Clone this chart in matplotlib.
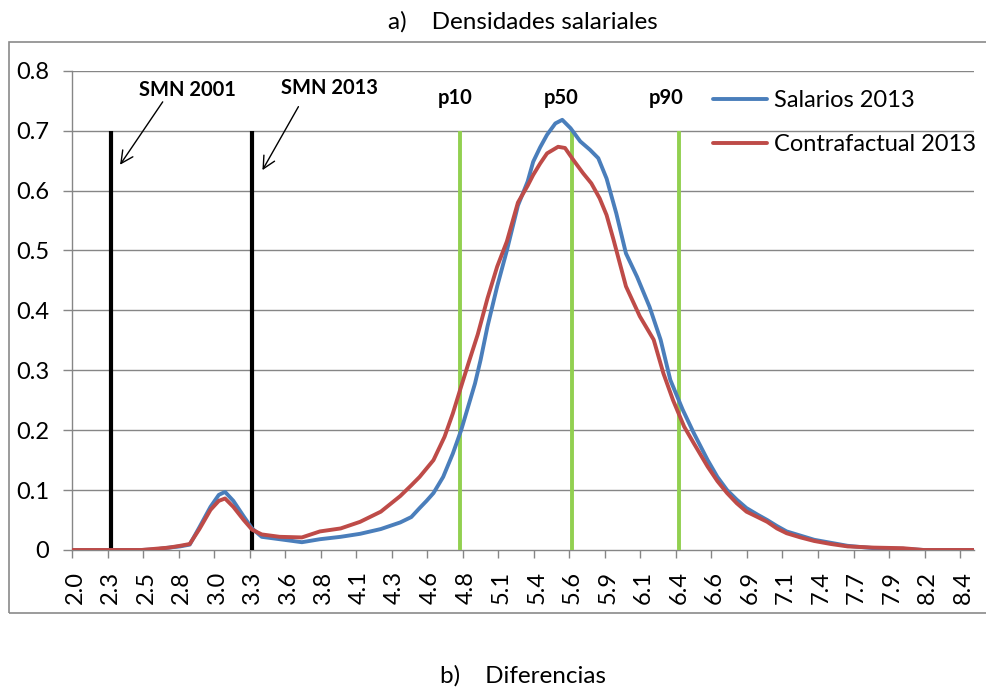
import numpy as np
import matplotlib
matplotlib.use("Agg")
import matplotlib.pyplot as plt
import matplotlib.transforms as mtransforms
from matplotlib.patches import Rectangle

plt.rcParams['font.family'] = ['Lato', 'DejaVu Sans']

# ---------------- data ----------------
x_salarios = [2.0, 2.3, 2.5, 2.6, 2.7, 2.78, 2.85, 2.92, 3.00, 3.06, 3.105, 3.165, 3.24,
              3.30, 3.37, 3.50, 3.66, 3.79, 3.94, 4.08, 4.23, 4.37, 4.45, 4.51, 4.56,
              4.61, 4.68, 4.75, 4.81, 4.86, 4.91, 4.95, 5.00, 5.07, 5.14, 5.22, 5.29,
              5.33, 5.38, 5.43, 5.49, 5.54, 5.60, 5.67, 5.74, 5.80, 5.86, 5.93, 6.00,
              6.08, 6.17, 6.25, 6.32, 6.41, 6.49, 6.59, 6.66, 6.73, 6.80, 6.87, 6.95,
              7.02, 7.09, 7.16, 7.26, 7.36, 7.48, 7.60, 7.79, 8.0, 8.15, 8.3, 8.51]
salarios_2013 = [0, 0, 0, 0.001, 0.004, 0.006, 0.009, 0.038, 0.072, 0.092, 0.097, 0.082, 0.056,
                 0.036, 0.022, 0.018, 0.013, 0.018, 0.022, 0.027, 0.035, 0.046, 0.055, 0.070, 0.082,
                 0.095, 0.122, 0.161, 0.200, 0.239, 0.278, 0.317, 0.373, 0.440, 0.500, 0.575, 0.615,
                 0.648, 0.672, 0.693, 0.712, 0.718, 0.704, 0.682, 0.668, 0.654, 0.620, 0.562, 0.495,
                 0.456, 0.406, 0.351, 0.284, 0.234, 0.195, 0.150, 0.122, 0.100, 0.084, 0.070, 0.059,
                 0.050, 0.040, 0.031, 0.024, 0.017, 0.012, 0.007, 0.003, 0.002, 0.0, 0.0, 0.0]

x_contrafactual = [2.0, 2.3, 2.5, 2.6, 2.7, 2.78, 2.85, 2.92, 3.00, 3.06, 3.105, 3.165, 3.24,
                   3.30, 3.37, 3.50, 3.66, 3.79, 3.94, 4.08, 4.23, 4.37, 4.45, 4.51, 4.61,
                   4.69, 4.75, 4.81, 4.87, 4.93, 5.00, 5.07, 5.14, 5.22, 5.29, 5.33, 5.38,
                   5.43, 5.51, 5.56, 5.62, 5.69, 5.75, 5.81, 5.86, 5.91, 6.00, 6.10, 6.20,
                   6.27, 6.34, 6.42, 6.49, 6.59, 6.66, 6.73, 6.80, 6.87, 6.95, 7.02, 7.09,
                   7.16, 7.26, 7.36, 7.48, 7.60, 7.79, 8.0, 8.15, 8.3, 8.51]
contrafactual_2013 = [0, 0, 0, 0.002, 0.004, 0.007, 0.010, 0.035, 0.067, 0.082, 0.086, 0.072, 0.050,
                      0.034, 0.026, 0.022, 0.021, 0.031, 0.036, 0.047, 0.064, 0.090, 0.108, 0.122, 0.150,
                      0.189, 0.228, 0.273, 0.317, 0.360, 0.420, 0.473, 0.515, 0.580, 0.608, 0.626, 0.645,
                      0.662, 0.673, 0.671, 0.651, 0.629, 0.612, 0.587, 0.559, 0.518, 0.440, 0.390, 0.351,
                      0.295, 0.250, 0.206, 0.178, 0.139, 0.115, 0.095, 0.078, 0.064, 0.055, 0.047, 0.036,
                      0.028, 0.021, 0.015, 0.010, 0.006, 0.004, 0.003, 0.0, 0.0, 0.0]

x_tick_labels = ["2.0", "2.3", "2.5", "2.8", "3.0", "3.3", "3.6", "3.8", "4.1", "4.3",
                 "4.6", "4.8", "5.1", "5.4", "5.6", "5.9", "6.1", "6.4", "6.6", "6.9",
                 "7.1", "7.4", "7.7", "7.9", "8.2", "8.4"]
y_ticks = [0, 0.1, 0.2, 0.3, 0.4, 0.5, 0.6, 0.7, 0.8]
y_tick_labels = ["0", "0.1", "0.2", "0.3", "0.4", "0.5", "0.6", "0.7", "0.8"]

smn_names = ["SMN 2001", "SMN 2013"]
smn_x = [2.28, 3.30]
pct_names = ["p10", "p50", "p90"]
pct_x = [4.80, 5.61, 6.38]
line_top = 0.7

series_names = ["Salarios 2013", "Contrafactual 2013"]
title_a = "a)    Densidades salariales"
title_b = "b)    Diferencias"

# ---------------- figure ----------------
W, H = 987, 689
fig = plt.figure(figsize=(W / 100, H / 100), dpi=100)
L, R, T, B = 72, 974, 70.7, 550
ax = fig.add_axes([L / W, 1 - B / H, (R - L) / W, (B - T) / H])

grey = "#868686"
fig.patches.append(Rectangle((9 / W, 1 - 613 / H), 1.2, (613 - 42) / H,
                             transform=fig.transFigure, fill=False,
                             edgecolor="#8a8a8a", linewidth=1.2, zorder=0))

step = 0.2565
x_ticks = [2.0 + i * step for i in range(len(x_tick_labels))]

ax.set_xlim(2.0, 8.513)
ax.set_ylim(0, 0.8)

for yv in y_ticks[1:]:
    ax.axhline(yv, color=grey, linewidth=1.0, zorder=1)

for xv in smn_x:
    ax.plot([xv, xv], [0, line_top], color="black", linewidth=3.0, zorder=3, solid_capstyle="butt")
for xv in pct_x:
    ax.plot([xv, xv], [0, line_top], color="#92D050", linewidth=2.8, zorder=3, solid_capstyle="butt")

l1, = ax.plot(x_salarios, salarios_2013, color="#4A7EBB", linewidth=2.8, zorder=4,
              solid_joinstyle="round", solid_capstyle="round", label=series_names[0])
l2, = ax.plot(x_contrafactual, contrafactual_2013, color="#BE4B48", linewidth=2.8, zorder=5,
              solid_joinstyle="round", solid_capstyle="round", label=series_names[1])

# labels for vertical lines
label_pos = {"SMN 2001": (2.835, 0.768), "SMN 2013": (3.856, 0.771),
             "p10": (4.77, 0.754), "p50": (5.53, 0.754), "p90": (6.29, 0.754)}
for name in smn_names + pct_names:
    px, py = label_pos[name]
    ax.text(px, py, name, ha="center", va="center", fontsize=14.5, fontweight="bold",
            color="black", zorder=6)

ax.annotate("", xy=(2.347, 0.643), xytext=(2.655, 0.748),
            arrowprops=dict(arrowstyle="->", color="black", lw=1.0,
                            mutation_scale=22, shrinkA=0, shrinkB=0))
ax.annotate("", xy=(3.375, 0.634), xytext=(3.635, 0.740),
            arrowprops=dict(arrowstyle="->", color="black", lw=1.0,
                            mutation_scale=22, shrinkA=0, shrinkB=0))

# axes styling
for s in ["top", "right"]:
    ax.spines[s].set_visible(False)
for s in ["left", "bottom"]:
    ax.spines[s].set_color(grey)
    ax.spines[s].set_linewidth(1.0)

ax.set_yticks(y_ticks)
ax.set_yticklabels(y_tick_labels, fontsize=17)
ax.set_xticks(x_ticks)
ax.set_xticklabels(x_tick_labels, fontsize=17, rotation=90)
ax.tick_params(axis="y", length=6.5, width=1.0, color=grey, pad=10)
ax.tick_params(axis="x", length=6, width=1.0, color=grey, pad=9)
offset = mtransforms.ScaledTranslation(3 / 100, 0, fig.dpi_scale_trans)
for lab in ax.get_xticklabels():
    lab.set_transform(lab.get_transform() + offset)

leg = ax.legend(handles=[l1, l2], loc="upper left", bbox_to_anchor=(0.7103, 0.96),
                frameon=False, fontsize=17, handlelength=2.3, handletextpad=0.3,
                labelspacing=0.97, borderpad=0, borderaxespad=0)

fig.text((L + R) / 2 / W, 1 - 22 / H, title_a, ha="center", va="center", fontsize=17.5)
fig.text((L + R) / 2 / W, 1 - 676 / H, title_b, ha="center", va="center", fontsize=17.5)

fig.savefig("out.png", dpi=100)
